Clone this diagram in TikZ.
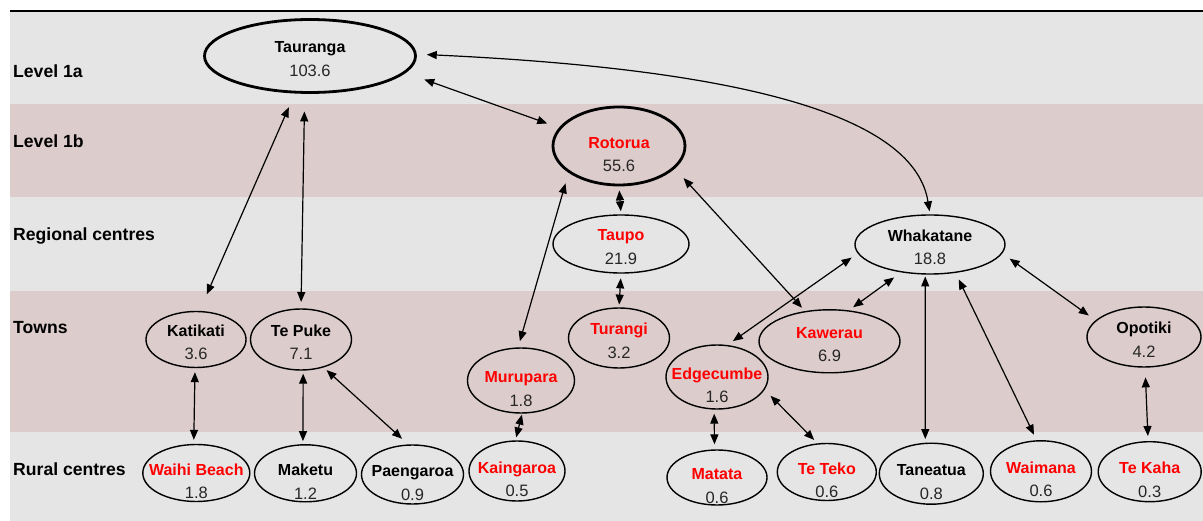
\documentclass[tikz,border=0pt]{standalone}
\usepackage{fontspec}
\setmainfont{Liberation Sans}
\usetikzlibrary{shapes.geometric, arrows.meta}

\definecolor{bandgray}{RGB}{229,229,229}
\definecolor{bandpink}{RGB}{221,204,204}
\definecolor{valgray}{RGB}{38,38,38}

\newlength{\vdrop}
\newcommand{\cname}[1]{\makebox[0pt]{\raisebox{-\vdrop}[0pt][0pt]{\bfseries #1}}}
\newcommand{\rname}[1]{\makebox[0pt]{\raisebox{-\vdrop}[0pt][0pt]{\bfseries\color{red}#1}}}
\newcommand{\cval}[1]{\makebox[0pt]{\raisebox{-\vdrop}[0pt][0pt]{\fontsize{16.5}{23.5}\selectfont\color{valgray}#1}}}

\tikzset{
  place/.style={ellipse, draw, line width=1.4pt, inner sep=0pt, align=center,
    font=\fontsize{16}{23.5}\selectfont, text height=0pt, text depth=0pt,
    execute at begin node={\setlength{\vdrop}{20.4pt}}},
  lowplace/.style={place, execute at begin node={\setlength{\vdrop}{25.7pt}}},
  major/.style={line width=2.8pt},
  level/.style={anchor=west, inner sep=0pt, font=\fontsize{17.6}{20}\selectfont\bfseries},
  link/.style={{Triangle[length=10pt,width=8pt]}-{Triangle[length=10pt,width=8pt]}, line width=1.2pt},
}

\begin{document}
\begin{tikzpicture}[x=1pt, y=-1pt]
    \useasboundingbox (0,0) rectangle (1203,521);

    % bands
    \fill[bandgray] (10,11) rectangle (1203,104);
    \fill[bandpink] (10,104) rectangle (1203,197.5);
    \fill[bandgray] (10,197.5) rectangle (1203,291);
    \fill[bandpink] (10,291) rectangle (1203,432);
    \fill[bandgray] (10,432) rectangle (1203,521);
    \draw[line width=1.4pt] (10,11) -- (1203,11);

    \node[level] (l1a) at (13,71) {Level 1a};
    \node[level] (l1b) at (13,141) {Level 1b};
    \node[level] (lreg) at (13,235.5) {Regional centres};
    \node[level] (ltown) at (13,328) {Towns};
    \node[level] (lrural) at (13,469) {Rural centres};

    % centres
    \node[place, major, minimum width=211pt, minimum height=73pt] (tauranga) at (310,56) {\cname{Tauranga}\\\cval{103.6}};
    \node[lowplace, major, minimum width=132pt, minimum height=78pt] (rotorua) at (619,146) {\rname{Rotorua}\\\cval{55.6}};
    \node[place, minimum width=136pt, minimum height=58pt] (taupo) at (621,244) {\rname{Taupo}\\\cval{21.9}};
    \node[place, minimum width=150pt, minimum height=59pt] (whakatane) at (930,244.5) {\cname{Whakatane}\\\cval{18.8}};

    % towns
    \node[place, minimum width=100pt, minimum height=56pt] (katikati) at (196,339.5) {\cname{Katikati}\\\cval{3.6}};
    \node[place, minimum width=101pt, minimum height=61pt] (tepuke) at (301,339.5) {\cname{Te Puke}\\\cval{7.1}};
    \node[place, minimum width=101pt, minimum height=60pt] (turangi) at (619,338) {\rname{Turangi}\\\cval{3.2}};
    \node[place, minimum width=141pt, minimum height=63pt] (kawerau) at (829.5,341.3) {\rname{Kawerau}\\\cval{6.9}};
    \node[place, minimum width=114pt, minimum height=60pt] (opotiki) at (1144,337) {\cname{Opotiki}\\\cval{4.2}};
    \node[lowplace, minimum width=107pt, minimum height=65pt] (murupara) at (521,380.5) {\rname{Murupara}\\\cval{1.8}};
    \node[lowplace, minimum width=102pt, minimum height=64pt] (edgecumbe) at (717,377) {\rname{Edgecumbe}\\\cval{1.6}};

    % rural centres
    \node[lowplace, minimum width=107pt, minimum height=57pt] (waihi) at (196.3,473) {\rname{Waihi Beach}\\\cval{1.8}};
    \node[lowplace, minimum width=102pt, minimum height=57pt] (maketu) at (305.5,473.3) {\cname{Maketu}\\\cval{1.2}};
    \node[lowplace, minimum width=102pt, minimum height=59pt] (paengaroa) at (412.5,474.5) {\cname{Paengaroa}\\\cval{0.9}};
    \node[lowplace, minimum width=96pt, minimum height=60pt] (kaingaroa) at (517,471) {\rname{Kaingaroa}\\\cval{0.5}};
    \node[lowplace, minimum width=100pt, minimum height=55pt] (matata) at (717,477.5) {\rname{Matata}\\\cval{0.6}};
    \node[lowplace, minimum width=99pt, minimum height=57pt] (teteko) at (826.8,472) {\rname{Te Teko}\\\cval{0.6}};
    \node[lowplace, minimum width=104pt, minimum height=61pt] (taneatua) at (931.3,473.7) {\cname{Taneatua}\\\cval{0.8}};
    \node[lowplace, minimum width=101pt, minimum height=61pt] (waimana) at (1041,471.3) {\rname{Waimana}\\\cval{0.6}};
    \node[lowplace, minimum width=103pt, minimum height=60pt] (tekaha) at (1149.7,471.7) {\rname{Te Kaha}\\\cval{0.3}};

    % links
    \draw[link, shorten <=15pt, shorten >=18pt] (tauranga.-112) -- (katikati.83);
    \draw[link, shorten <=17.6pt, shorten >=6.3pt] (tauranga.-98) -- (tepuke.90);
    \draw[link, shorten <=19.7pt, shorten >=12.4pt] (tauranga.-10) -- (rotorua.163.5);
    \draw[link, shorten <=10pt, shorten >=3pt] (tauranga.1.5) .. controls (760,70) and (915,120) .. (whakatane.north);
    \draw[link, shorten <=4pt, shorten >=3pt] (rotorua.south) -- (taupo.north);
    \draw[link, shorten <=4.7pt, shorten >=2.7pt] (taupo.south) -- (turangi.north);
    \draw[link, shorten <=11pt, shorten >=6.4pt] (rotorua.-152.7) -- (murupara.95);
    \draw[link, shorten <=12.9pt, shorten >=4.5pt] (rotorua.-22.5) -- (kawerau.129);
    \draw[link, shorten <=7.4pt, shorten >=6.7pt] (whakatane.-173) -- (edgecumbe.72);
    \draw[link, shorten <=8.6pt, shorten >=5.2pt] (whakatane.-136.5) -- (kawerau.58.5);
    \draw[link, shorten <=1.8pt, shorten >=3.7pt] (whakatane.-99) -- (taneatua.101);
    \draw[link, shorten <=7.2pt, shorten >=6.1pt] (whakatane.-48) -- (waimana.98.6);
    \draw[link, shorten <=9pt, shorten >=8.3pt] (whakatane.-7.5) -- (opotiki.161);
    \draw[link, shorten <=4pt, shorten >=4pt] (katikati.-92) -- (waihi.95);
    \draw[link, shorten <=3pt, shorten >=3pt] (tepuke.-86) -- (maketu.95);
    \draw[link, shorten <=3.9pt, shorten >=8.4pt] (tepuke.-51.5) -- (paengaroa.98.6);
    \draw[link, shorten <=1pt, shorten >=3pt] (murupara.-88) -- (kaingaroa.93);
    \draw[link, shorten <=4pt, shorten >=5pt] (edgecumbe.-95) -- (matata.95);
    \draw[link, shorten <=8.5pt, shorten >=4.7pt] (edgecumbe.-15) -- (teteko.108);
    \draw[link, shorten <=9.7pt, shorten >=5pt] (opotiki.-88) -- (tekaha.93);
\end{tikzpicture}
\end{document}
